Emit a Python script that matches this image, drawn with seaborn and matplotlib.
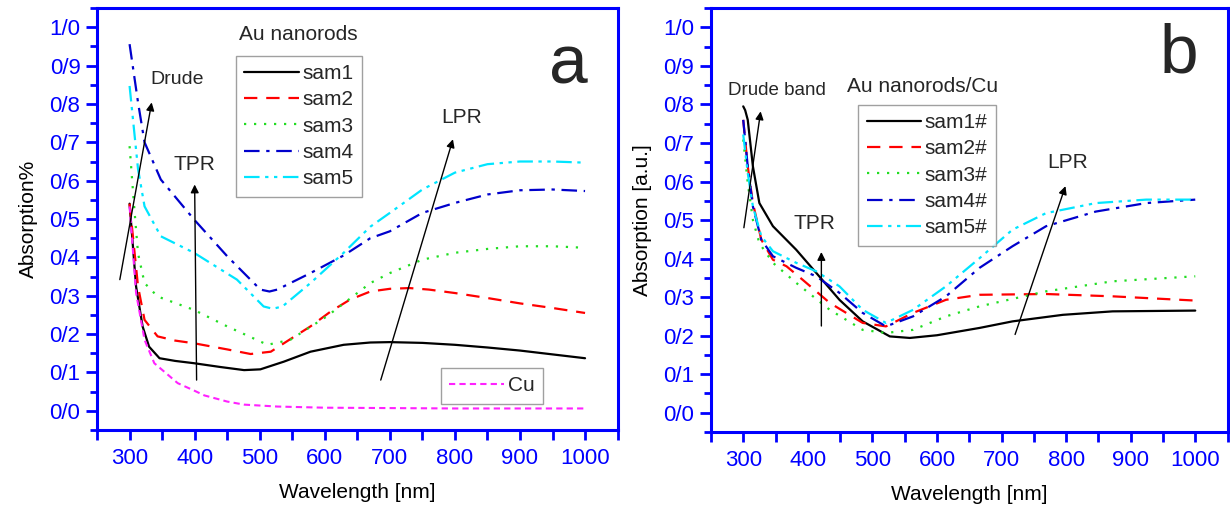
import numpy as np
import pandas as pd
import seaborn as sns
import matplotlib
matplotlib.use("Agg")
import matplotlib.pyplot as plt
from matplotlib.ticker import MultipleLocator, FuncFormatter
from matplotlib.lines import Line2D

# ---------------- data: panel a (Au nanorods) ----------------
x_sam1 = [300, 310, 320, 330, 346, 370, 399, 440, 476, 501, 537, 578, 629, 670, 700, 750, 800, 850, 900, 950, 1000]
sam1   = [0.54, 0.324, 0.22, 0.167, 0.137, 0.13, 0.124, 0.114, 0.106, 0.108, 0.128, 0.154, 0.172, 0.178, 0.179, 0.177, 0.172, 0.165, 0.157, 0.147, 0.137]
x_sam2 = [300, 313, 323, 343, 370, 399, 450, 486, 517, 550, 578, 610, 639, 670, 700, 730, 760, 800, 850, 900, 950, 1000]
sam2   = [0.54, 0.324, 0.237, 0.194, 0.183, 0.176, 0.16, 0.148, 0.154, 0.19, 0.22, 0.26, 0.29, 0.311, 0.318, 0.32, 0.316, 0.307, 0.294, 0.28, 0.268, 0.255]
x_sam3 = [300, 307, 313, 323, 343, 399, 450, 512, 547, 603, 670, 700, 750, 800, 850, 900, 950, 1000]
sam3   = [0.69, 0.533, 0.41, 0.333, 0.298, 0.263, 0.22, 0.172, 0.185, 0.246, 0.333, 0.359, 0.394, 0.412, 0.422, 0.429, 0.429, 0.425]
x_sam4 = [300, 313, 323, 348, 399, 450, 501, 515, 527, 578, 629, 670, 700, 750, 800, 850, 900, 950, 1000]
sam4   = [0.956, 0.804, 0.70, 0.603, 0.499, 0.403, 0.316, 0.311, 0.316, 0.359, 0.405, 0.45, 0.468, 0.516, 0.542, 0.564, 0.575, 0.577, 0.573]
x_sam5 = [300, 313, 323, 348, 399, 465, 506, 520, 535, 578, 629, 670, 700, 750, 800, 850, 900, 950, 1000]
sam5   = [0.847, 0.63, 0.533, 0.455, 0.412, 0.342, 0.272, 0.266, 0.272, 0.333, 0.412, 0.48, 0.516, 0.577, 0.621, 0.643, 0.65, 0.65, 0.647]
x_cu   = [300, 310, 323, 338, 374, 400, 415, 450, 476, 527, 600, 700, 800, 1000]
cu     = [0.533, 0.307, 0.185, 0.124, 0.072, 0.052, 0.04, 0.024, 0.016, 0.011, 0.008, 0.007, 0.006, 0.006]

# ---------------- data: panel b (Au nanorods/Cu) ----------------
x_sam1b = [300, 303, 307, 315, 325, 346, 382, 413, 449, 485, 527, 558, 600, 666, 717, 795, 872, 1000]
sam1b   = [0.795, 0.785, 0.76, 0.639, 0.544, 0.484, 0.423, 0.363, 0.293, 0.237, 0.198, 0.194, 0.201, 0.22, 0.237, 0.254, 0.263, 0.265]
x_sam2b = [300, 307, 315, 328, 346, 367, 392, 434, 485, 521, 563, 614, 666, 769, 872, 1000]
sam2b   = [0.76, 0.639, 0.544, 0.449, 0.397, 0.38, 0.345, 0.285, 0.233, 0.224, 0.259, 0.293, 0.306, 0.308, 0.302, 0.291]
x_sam3b = [300, 307, 315, 325, 346, 382, 434, 485, 521, 563, 614, 666, 769, 872, 1000]
sam3b   = [0.709, 0.596, 0.50, 0.44, 0.389, 0.337, 0.267, 0.215, 0.207, 0.215, 0.25, 0.276, 0.315, 0.341, 0.354]
x_sam4b = [300, 307, 315, 328, 346, 382, 413, 449, 485, 521, 563, 614, 666, 717, 769, 846, 924, 1000]
sam4b   = [0.76, 0.639, 0.535, 0.449, 0.406, 0.376, 0.354, 0.311, 0.259, 0.224, 0.25, 0.302, 0.376, 0.432, 0.484, 0.522, 0.544, 0.553]
x_sam5b = [300, 307, 315, 328, 346, 382, 413, 449, 485, 521, 563, 614, 666, 717, 769, 846, 924, 1000]
sam5b   = [0.722, 0.622, 0.535, 0.458, 0.419, 0.389, 0.367, 0.328, 0.267, 0.233, 0.267, 0.328, 0.401, 0.475, 0.518, 0.544, 0.553, 0.553]

names_a = ["sam1", "sam2", "sam3", "sam4", "sam5"]
names_b = ["sam1#", "sam2#", "sam3#", "sam4#", "sam5#"]

colors = ["#000000", "#ff0000", "#22dd22", "#0000cc", "#00e5ff"]
styles = ["-", (0, (6, 4)), (0, (1, 3.5)), (0, (7, 3, 1.5, 3)), (0, (7, 2.5, 1.5, 2.5, 1.5, 2.5))]
cu_color = "#ff22ff"
cu_style = (0, (3, 2))

sns.set_theme(style="white")
plt.rcParams['font.family'] = ['Liberation Sans', 'DejaVu Sans']

BLUE = "#0000ff"
FS = 15

fig = plt.figure(figsize=(12.3, 5.07), dpi=100)
axA = fig.add_axes([0.0789, 0.152, 0.4232, 0.832])
axB = fig.add_axes([0.578, 0.148, 0.42, 0.836])

fmt = FuncFormatter(lambda v, p: f"{v:.1f}".replace('.', '/'))

def style_axes(ax, ylabel):
    ax.set_xlim(250, 1050)
    ax.set_ylim(-0.05, 1.05)
    for s in ax.spines.values():
        s.set_color(BLUE)
        s.set_linewidth(2.2)
        s.set_visible(True)
    ax.xaxis.set_minor_locator(MultipleLocator(50))
    ax.yaxis.set_minor_locator(MultipleLocator(0.05))
    ax.set_xticks([300, 400, 500, 600, 700, 800, 900, 1000])
    ax.set_yticks(np.round(np.arange(0, 1.01, 0.1), 2))
    ax.yaxis.set_major_formatter(fmt)
    ax.tick_params(axis='both', which='both', direction='out', color=BLUE, width=2,
                   labelcolor=BLUE, labelsize=16, bottom=True, left=True, top=False, right=False)
    ax.tick_params(axis='x', which='major', length=7, pad=6)
    ax.tick_params(axis='x', which='minor', length=7)
    ax.tick_params(axis='y', which='major', length=8, pad=4)
    ax.tick_params(axis='y', which='minor', length=5)
    ax.set_xlabel("Wavelength [nm]", fontsize=FS, color="black", labelpad=10)
    ax.set_ylabel(ylabel, fontsize=FS, color="black", labelpad=8)
    ax.grid(False)

def make_legend(ax, handles, anchor):
    leg = ax.legend(handles=handles, loc="upper left", bbox_to_anchor=anchor,
                    borderaxespad=0, fontsize=FS, handlelength=2.6, handletextpad=0.2,
                    labelspacing=0.35, frameon=True, fancybox=False, edgecolor="#888888",
                    borderpad=0.4)
    leg.get_frame().set_linewidth(1.0)
    return leg

arr = dict(arrowstyle="-|>", color="black", lw=1.0, mutation_scale=12, shrinkA=0, shrinkB=0)

# panel a
handles_a = []
for name, xs, vals, c, ls in zip(names_a, [x_sam1, x_sam2, x_sam3, x_sam4, x_sam5],
                                 [sam1, sam2, sam3, sam4, sam5], colors, styles):
    sns.lineplot(x=xs, y=vals, ax=axA, color=c, linestyle=ls, linewidth=1.6)
    handles_a.append(Line2D([], [], color=c, linestyle=ls, linewidth=1.6, label=name))
sns.lineplot(x=x_cu, y=cu, ax=axA, color=cu_color, linestyle=cu_style, linewidth=1.5)
style_axes(axA, "Absorption%")

leg1 = make_legend(axA, handles_a, (0.267, 0.887))
axA.add_artist(leg1)
make_legend(axA, [Line2D([], [], color=cu_color, linestyle=cu_style, linewidth=1.5, label="Cu")],
            (0.661, 0.147))
axA.text(0.386, 0.937, "Au nanorods", transform=axA.transAxes, ha="center", va="center", fontsize=FS)
axA.text(975, 0.90, "a", fontsize=50, ha="center", va="center")

axA.annotate("", xy=(334, 0.804), xytext=(285, 0.342), arrowprops=arr)
axA.annotate("", xy=(400, 0.59), xytext=(403, 0.08), arrowprops=arr)
axA.annotate("", xy=(797, 0.708), xytext=(686, 0.08), arrowprops=arr)
axA.text(332, 0.865, "Drude", fontsize=14, ha="left", va="center")
axA.text(399, 0.643, "TPR", fontsize=15, ha="center", va="center")
axA.text(811, 0.765, "LPR", fontsize=15, ha="center", va="center")

# panel b
handles_b = []
for name, xs, vals, c, ls in zip(names_b, [x_sam1b, x_sam2b, x_sam3b, x_sam4b, x_sam5b],
                                 [sam1b, sam2b, sam3b, sam4b, sam5b], colors, styles):
    sns.lineplot(x=xs, y=vals, ax=axB, color=c, linestyle=ls, linewidth=1.6)
    handles_b.append(Line2D([], [], color=c, linestyle=ls, linewidth=1.6, label=name))
style_axes(axB, "Absorption [a.u.]")
make_legend(axB, handles_b, (0.285, 0.772))
axB.text(0.41, 0.814, "Au nanorods/Cu", transform=axB.transAxes, ha="center", va="center", fontsize=FS)
axB.text(975, 0.929, "b", fontsize=50, ha="center", va="center")

axB.annotate("", xy=(327, 0.782), xytext=(301, 0.48), arrowprops=arr)
axB.annotate("", xy=(421, 0.417), xytext=(421, 0.225), arrowprops=arr)
axB.annotate("", xy=(799, 0.588), xytext=(721, 0.203), arrowprops=arr)
axB.text(277, 0.837, "Drude band", fontsize=13.5, ha="left", va="center")
axB.text(410, 0.491, "TPR", fontsize=15, ha="center", va="center")
axB.text(803, 0.65, "LPR", fontsize=15, ha="center", va="center")

fig.savefig("out.png", dpi=100, facecolor="white")
